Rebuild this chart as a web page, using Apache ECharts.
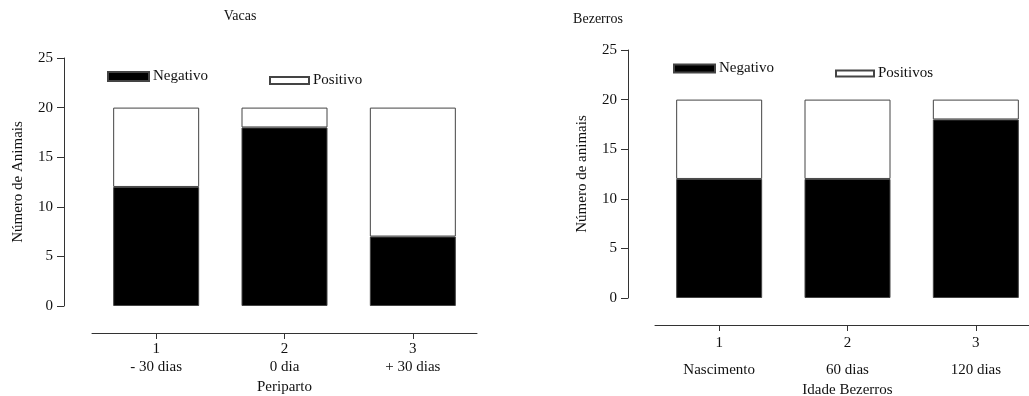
<!DOCTYPE html>
<html>
<head>
<meta charset="utf-8">
<script src="https://cdn.jsdelivr.net/npm/echarts@6/dist/echarts.min.js"></script>
<style>
html,body{margin:0;padding:0;background:#fff;}
#c{width:1029px;height:396px;}
</style>
</head>
<body>
<div id="c"></div>
<script>
// ---- data ----
const vacasTitle = 'Vacas';
const vacasCategories = ['1', '2', '3'];
const vacasSubLabels = ['- 30 dias', '0 dia', '+ 30 dias'];
const vacasNegativo = [12, 18, 7];
const vacasPositivo = [8, 2, 13];
const vacasXName = 'Periparto';
const vacasYName = 'Número de Animais';

const bezTitle = 'Bezerros';
const bezCategories = ['1', '2', '3'];
const bezSubLabels = ['Nascimento', '60 dias', '120 dias'];
const bezNegativo = [12, 12, 18];
const bezPositivos = [8, 8, 2];
const bezXName = 'Idade Bezerros';
const bezYName = 'Número de animais';

const yTicks = [0, 5, 10, 15, 20, 25];

// ---- styles ----
const FONT = '"Liberation Serif", "Times New Roman", serif';
const AX = '#333';

function yAxis(gridIndex, name, offset, gap) {
  return {
    type: 'value', gridIndex, min: yTicks[0], max: yTicks[yTicks.length - 1], interval: 5,
    offset,
    name, nameLocation: 'middle', nameRotate: 90, nameGap: gap,
    nameTextStyle: { fontFamily: FONT, fontSize: 15, color: '#111' },
    axisLine: { show: true, onZero: false, lineStyle: { color: AX, width: 1 } },
    axisTick: { show: true, length: 7, inside: false, lineStyle: { color: AX } },
    axisLabel: { margin: 11, fontFamily: FONT, fontSize: 15, color: '#111' },
    splitLine: { show: false }
  };
}
function xAxis(gridIndex, cats, subs, name, offset, gap, nH, dH) {
  return {
    type: 'category', gridIndex, data: cats, offset,
    name, nameLocation: 'middle', nameGap: gap,
    nameTextStyle: { fontFamily: FONT, fontSize: 15, color: '#111' },
    axisLine: { show: true, onZero: false, lineStyle: { color: AX, width: 1 } },
    axisTick: { show: true, alignWithLabel: true, length: 6, lineStyle: { color: AX } },
    axisLabel: {
      margin: 8,
      formatter: (v, i) => '{n|' + v + '}\n{d|' + subs[i] + '}',
      rich: {
        n: { fontFamily: FONT, fontSize: 15, color: '#111', lineHeight: nH },
        d: { fontFamily: FONT, fontSize: 15, color: '#111', lineHeight: dH }
      }
    },
    splitLine: { show: false }
  };
}
function bar(name, data, xi, color) {
  return {
    name, type: 'bar', stack: 's' + xi, xAxisIndex: xi, yAxisIndex: xi, data,
    barWidth: 86,
    itemStyle: { color, borderColor: '#444', borderWidth: 1 },
    emphasis: { disabled: true }, animation: false
  };
}
function legend(name, left, top, w, h) {
  return {
    data: [name], left, top, itemWidth: w, itemHeight: h, itemGap: 0,
    icon: 'rect', textStyle: { fontFamily: FONT, fontSize: 15, color: '#111', padding: [0, 0, 0, -1] },
    selectedMode: false, padding: 0
  };
}

const chart = echarts.init(document.getElementById('c'), null, { renderer: 'canvas' });
chart.setOption({
  animation: false,
  backgroundColor: '#fff',
  title: [
    { text: vacasTitle, left: 240, top: 9, textAlign: 'center', padding: 0,
      textStyle: { fontFamily: FONT, fontSize: 14, fontWeight: 'normal', color: '#111' } },
    { text: bezTitle, left: 598, top: 12, textAlign: 'center', padding: 0,
      textStyle: { fontFamily: FONT, fontSize: 14, fontWeight: 'normal', color: '#111' } }
  ],
  legend: [
    legend('Negativo', 107, 69, 41, 9),
    legend('Positivo', 269, 73, 39, 7),
    legend('Negativo', 673, 61, 41, 8),
    legend('Positivos', 835, 66, 38, 6)
  ],
  grid: [
    { left: 92, top: 58, width: 385, height: 248, outerBoundsMode: 'none', containLabel: false },
    { left: 655, top: 50, width: 385, height: 248, outerBoundsMode: 'none', containLabel: false }
  ],
  xAxis: [
    xAxis(0, vacasCategories, vacasSubLabels, vacasXName, 27, 44, 17, 19),
    xAxis(1, bezCategories, bezSubLabels, bezXName, 27, 54, 20, 34)
  ],
  yAxis: [
    yAxis(0, vacasYName, 28, 38),
    yAxis(1, bezYName, 27, 38)
  ],
  series: [
    bar('Negativo', vacasNegativo, 0, '#000'),
    bar('Positivo', vacasPositivo, 0, '#fff'),
    bar('Negativo', bezNegativo, 1, '#000'),
    bar('Positivos', bezPositivos, 1, '#fff')
  ]
});
</script>
</body>
</html>
